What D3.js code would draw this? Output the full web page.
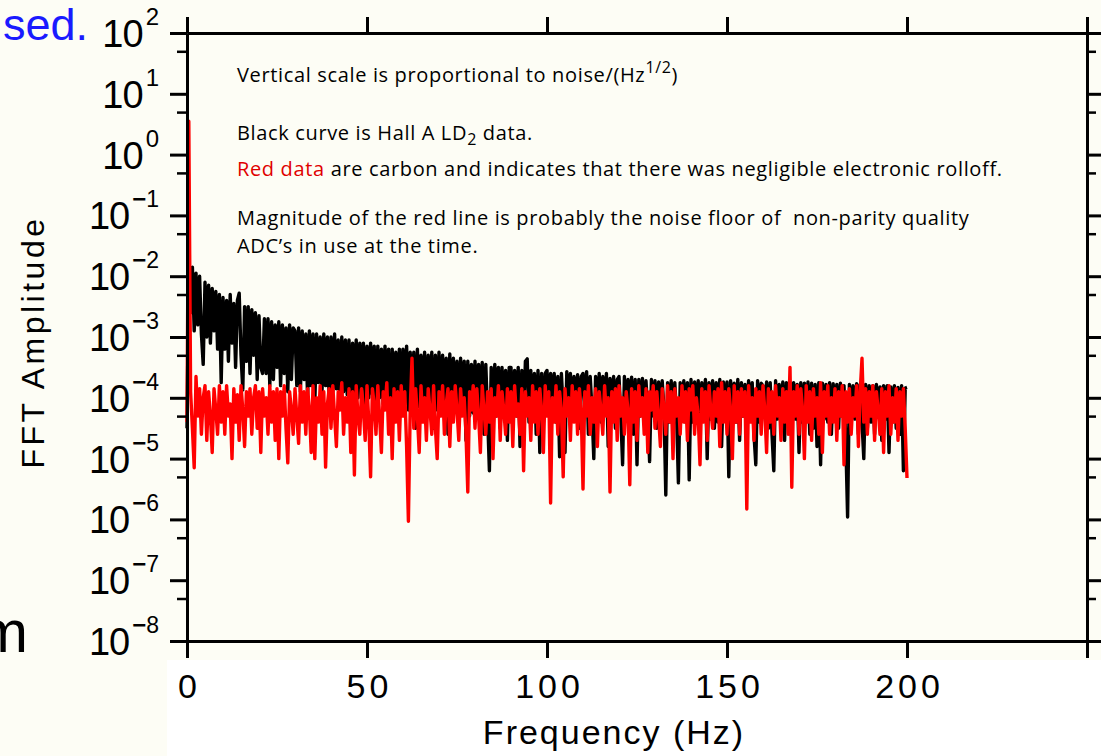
<!DOCTYPE html>
<html><head><meta charset="utf-8">
<script src="https://cdn.jsdelivr.net/npm/d3@7"></script>
<style>html,body{margin:0;padding:0;background:#fdfdf5;} svg{display:block}</style>
</head><body><svg id="chart" width="1101" height="756"></svg>
<script>
// ---- data ----
const freqStep = 0.5; // Hz between consecutive samples, first sample at 0 Hz
// log10 of FFT amplitude, Hall A LD2 (black)
const blackLog10 = [
-4.5,-1.8,-2.6,-1.85,-2.9,-1.95,-2.8,-2.0,-2.95,-3.45,-2.1,-3.0,-2.15,-3.1,-2.2,-2.9,-2.25,-3.2,-2.3,-3.75,
-2.35,-3.2,-2.4,-3.4,-2.3,-3.1,-2.45,-3.5,-2.4,-2.28,-3.3,-3.87,-2.5,-3.4,-2.5,-3.6,-2.55,-3.3,-2.6,-3.7,
-2.65,-3.5,-3.6,-2.7,-3.6,-2.7,-3.8,-2.75,-3.7,-2.8,-3.5,-2.75,-3.8,-2.8,-3.6,-2.85,-3.9,-2.8,-3.7,-2.85,
-2.9,-3.8,-2.85,-3.9,-2.9,-3.7,-2.95,-4.0,-2.9,-3.8,-2.95,-4.1,-2.95,-3.75,-3.0,-3.9,-2.95,-3.8,-3.0,-4.0,
-3.0,-3.9,-2.95,-3.85,-3.05,-4.1,-3.0,-3.9,-3.05,-3.95,-3.05,-4.2,-3.1,-3.9,-3.05,-4.0,-3.1,-3.85,-3.1,-4.1,
-3.15,-4.0,-3.1,-3.95,-3.15,-4.3,-3.15,-4.0,-3.2,-4.1,-3.15,-4.05,-3.2,-4.4,-3.2,-4.0,-3.25,-4.15,-3.2,-4.05,
-3.2,-4.1,-3.15,-4.2,-3.25,-4.05,-3.25,-4.5,-3.2,-4.15,-3.3,-4.1,-3.25,-4.3,-3.3,-4.15,-3.25,-4.5,-3.3,-4.2,
-3.25,-4.2,-3.3,-4.15,-3.35,-4.6,-3.28,-4.25,-3.35,-4.2,-3.4,-4.4,-3.35,-4.25,-3.4,-4.7,-3.4,-4.3,-3.45,-4.25,
-3.4,-4.3,-3.45,-4.2,-3.42,-4.6,-3.45,-4.3,-5.2,-3.5,-4.4,-3.45,-4.3,-3.5,-4.5,-3.5,-4.3,-3.55,-4.7,-3.5,
-3.5,-4.4,-3.55,-4.3,-3.5,-4.8,-3.55,-4.35,-3.4,-3.36,-4.4,-3.55,-4.3,-3.6,-4.6,-3.55,-4.9,-3.6,-4.4,-3.6,
-3.55,-4.2,-3.6,-4.1,-3.6,-4.4,-3.65,-4.97,-3.6,-4.2,-4.9,-3.57,-4.1,-3.6,-4.3,-3.65,-4.2,-3.62,-4.5,-3.65,
-3.6,-4.3,-3.57,-4.6,-3.65,-4.2,-5.0,-3.65,-4.3,-3.6,-4.4,-3.65,-4.25,-3.6,-4.8,-3.68,-4.3,-3.65,-4.5,-3.7,
-3.65,-4.3,-5.1,-3.65,-4.35,-3.7,-4.2,-3.66,-4.6,-3.7,-5.1,-3.7,-4.3,-3.68,-4.4,-3.72,-4.25,-5.05,-3.7,-4.3,
-3.72,-4.5,-3.74,-4.3,-3.72,-4.2,-5.6,-3.75,-4.4,-3.72,-4.6,-3.75,-4.3,-5.4,-3.75,-4.35,-3.72,-4.4,-3.75,-5.35,
-3.7,-4.4,-3.74,-4.3,-3.72,-4.6,-3.75,-4.3,-3.7,-5.0,-3.75,-4.35,-3.72,-4.5,-3.75,-4.4,-3.7,-4.8,-3.74,-4.3,
-3.74,-5.3,-3.72,-4.3,-3.76,-4.4,-3.7,-4.7,-3.75,-4.3,-3.78,-4.5,-3.72,-4.35,-3.75,-4.6,-5.1,-3.72,-4.4,-3.76,
-3.8,-4.3,-3.74,-4.5,-3.75,-4.6,-5.2,-3.72,-4.35,-3.78,-4.4,-3.74,-4.7,-3.75,-4.3,-3.76,-4.5,-3.75,-4.35,-3.78,
-4.9,-3.75,-4.4,-3.76,-4.3,-3.74,-4.6,-3.76,-4.5,-3.78,-4.8,-3.75,-5.1,-3.76,-4.35,-3.78,-4.4,-3.75,-4.6,-3.77,
-4.3,-3.78,-4.5,-3.76,-4.3,-3.8,-4.7,-5.96,-3.78,-4.4,-3.8,-4.35,-3.77,-4.6,-3.78,-4.4,-5.0,-3.78,-4.5,-3.8,
-4.4,-3.8,-4.6,-3.78,-4.3,-3.82,-4.7,-3.8,-4.35,-3.8,-4.9,-3.82,-4.4,-3.8,-4.5,-3.83,-4.6,-3.8,-5.2,-3.84,
-3.83
];
// log10 of FFT amplitude, carbon (red)
const redLog10 = [
-4.4,0.55,-3.9,-4.5,-5.15,-3.65,-4.3,-3.85,-4.6,-4.0,-3.8,-4.7,-3.9,-4.3,-4.9,-3.85,-4.2,-4.6,-3.8,-4.4,
-3.9,-4.6,-3.8,-4.3,-4.1,-5.0,-3.85,-4.4,-3.95,-4.7,-3.8,-4.2,-4.8,-3.9,-4.3,-3.85,-4.6,-4.0,-3.8,-4.5,
-3.9,-4.9,-3.85,-4.3,-4.0,-4.6,-3.8,-4.4,-3.9,-4.7,-3.85,-5.0,-3.9,-4.3,-3.8,-4.5,-5.07,-3.9,-4.2,-4.6,
-3.85,-4.3,-4.75,-3.8,-4.4,-3.9,-4.6,-3.85,-4.2,-4.9,-3.8,-5.0,-4.0,-4.4,-3.8,-4.6,-3.9,-5.14,-4.1,-3.85,
-4.5,-3.8,-4.3,-4.8,-3.9,-4.2,-3.75,-4.6,-4.0,-4.4,-3.85,-4.9,-3.9,-5.27,-3.8,-4.3,-4.6,-3.85,-4.2,-4.7,
-3.8,-4.4,-5.3,-3.85,-4.1,-4.6,-3.8,-4.3,-4.9,-3.9,-4.2,-3.75,-4.6,-4.0,-5.0,-3.85,-4.4,-3.9,-4.7,-3.8,
-4.3,-3.9,-4.8,-6.03,-4.2,-3.35,-4.5,-3.85,-4.3,-4.9,-3.8,-4.4,-4.0,-4.7,-3.85,-4.2,-4.6,-3.8,-4.5,-5.0,
-3.9,-4.3,-3.8,-4.6,-4.1,-3.85,-4.8,-3.9,-4.4,-3.8,-4.2,-4.7,-3.85,-4.3,-4.0,-4.6,-5.55,-3.9,-4.2,-3.8,
-4.5,-3.85,-4.3,-4.9,-3.8,-4.2,-4.6,-3.9,-4.4,-3.85,-5.0,-4.0,-4.3,-3.8,-4.7,-3.9,-4.2,-4.6,-3.85,-4.4,
-3.9,-4.8,-3.8,-4.3,-4.1,-4.6,-3.85,-5.2,-3.9,-4.3,-4.0,-4.7,-3.8,-4.4,-3.9,-4.6,-3.85,-4.2,-4.9,-3.8,
-4.3,-3.9,-5.73,-4.0,-4.4,-3.8,-4.6,-3.9,-4.2,-5.3,-3.85,-4.3,-4.0,-4.7,-3.8,-4.4,-3.9,-4.6,-3.85,-4.2,
-5.5,-3.9,-4.3,-3.8,-4.6,-4.0,-4.4,-3.85,-4.8,-3.9,-4.2,-4.6,-3.8,-4.3,-4.0,-5.55,-3.9,-4.4,-3.85,-4.7,
-3.8,-4.3,-4.0,-4.6,-3.9,-4.2,-5.43,-3.85,-4.4,-3.9,-4.7,-3.8,-4.3,-4.0,-4.6,-3.85,-4.9,-3.9,-4.2,-3.8,
-4.5,-3.9,-4.3,-4.8,-3.85,-4.2,-4.6,-3.8,-4.4,-3.9,-5.0,-3.85,-4.3,-4.0,-4.6,-3.8,-4.4,-3.9,-4.7,-3.85,
-4.2,-3.8,-4.6,-4.0,-4.3,-5.1,-3.85,-4.4,-3.9,-4.7,-3.8,-4.2,-4.5,-3.9,-4.3,-3.85,-4.8,-3.75,-4.4,-3.9,
-4.6,-3.85,-4.2,-5.0,-3.8,-4.4,-3.9,-4.6,-3.85,-4.3,-3.9,-5.83,-3.8,-4.4,-4.0,-4.7,-3.85,-4.3,-3.9,-4.6,
-3.8,-4.2,-4.9,-3.85,-4.4,-3.9,-4.6,-3.8,-4.3,-4.0,-4.7,-3.85,-4.4,-3.9,-4.6,-3.5,-5.47,-3.9,-4.3,-3.8,
-4.6,-3.85,-4.2,-5.0,-3.8,-4.4,-3.9,-4.7,-3.85,-4.3,-4.0,-4.6,-3.75,-4.9,-3.9,-4.3,-3.8,-4.6,-4.0,-4.4,
-3.85,-4.7,-3.9,-4.3,-3.8,-5.1,-3.9,-4.4,-3.85,-4.6,-4.0,-4.3,-3.8,-4.8,-3.9,-3.35,-4.4,-3.85,-4.6,-3.9,
-4.3,-3.8,-4.7,-3.9,-4.2,-4.6,-3.85,-4.9,-3.9,-4.3,-3.8,-4.6,-4.0,-4.4,-3.85,-4.7,-3.9,-4.3,-3.85,-4.5,
-5.32
];
const xTickValues = [0, 50, 100, 150, 200, 250];
const xTickLabels = ["0", "50", "100", "150", "200", ""];
const yExponents = [2, 1, 0, -1, -2, -3, -4, -5, -6, -7, -8];
const yMinorValues = [5e1, 5e0, 5e-1, 5e-2, 5e-3, 5e-4, 5e-5, 5e-6, 5e-7, 5e-8];
const xTitle = "Frequency (Hz)";
const yTitle = "FFT Amplitude";

// ---- drawing ----
const svg = d3.select("#chart");
const L = 187, R = 1087, T = 33, B = 641;
const x = d3.scaleLinear().domain([0, 250]).range([L, R]);
const y = d3.scaleLog().domain([1e-8, 1e2]).range([B, T]);

svg.append("rect").attr("x", 0).attr("y", 0).attr("width", 1101).attr("height", 756).attr("fill", "#fdfdf5");
svg.append("rect").attr("x", 167).attr("y", 660).attr("width", 934).attr("height", 96).attr("fill", "#ffffff");

// slide fragments (partly cropped at the left edge, as in the picture)
svg.append("text").attr("x", 3).attr("y", 40).attr("font-family", "Liberation Sans, Arial, sans-serif")
  .attr("font-size", 45).attr("fill", "#1a1aff").text("sed.");
svg.append("text").attr("x", 28).attr("y", 652).attr("text-anchor", "end").attr("font-family", "Liberation Sans, Arial, sans-serif")
  .attr("font-size", 60).attr("fill", "#000").text("m");

// data lines
const toPts = arr => arr.map((v, i) => ({f: i * freqStep, a: Math.pow(10, v)}));
const line = d3.line().x(d => x(d.f)).y(d => y(d.a));
svg.append("path").datum(toPts(blackLog10)).attr("d", line)
  .attr("fill", "none").attr("stroke", "#000").attr("stroke-width", 3.4).attr("stroke-linejoin", "round");
svg.append("path").datum(toPts(redLog10)).attr("d", line)
  .attr("fill", "none").attr("stroke", "#ff0000").attr("stroke-width", 3.4).attr("stroke-linejoin", "round");

// axes
function styleAxis(g, w) {
  g.selectAll("path.domain").attr("stroke", "#000").attr("stroke-width", 3);
  g.selectAll(".tick line").attr("stroke", "#000").attr("stroke-width", w);
  g.selectAll(".tick text").remove();
}
svg.append("g").attr("transform", `translate(${L},0)`)
  .call(d3.axisLeft(y).tickValues(yExponents.map(e => Math.pow(10, e))).tickSize(17).tickSizeOuter(0))
  .call(g => styleAxis(g, 3));
svg.append("g").attr("transform", `translate(${L},0)`)
  .call(d3.axisLeft(y).tickValues(yMinorValues).tickSize(10).tickSizeOuter(0))
  .call(g => styleAxis(g, 2.5));
svg.append("g").attr("transform", `translate(${R},0)`)
  .call(d3.axisRight(y).tickValues(yExponents.map(e => Math.pow(10, e))).tickSize(14).tickSizeOuter(0))
  .call(g => styleAxis(g, 3));
svg.append("g").attr("transform", `translate(${R},0)`)
  .call(d3.axisRight(y).tickValues(yMinorValues).tickSize(9).tickSizeOuter(0))
  .call(g => styleAxis(g, 2.5));
svg.append("g").attr("transform", `translate(0,${T})`)
  .call(d3.axisTop(x).tickValues(xTickValues).tickSize(16).tickSizeOuter(0))
  .call(g => styleAxis(g, 3));
const xAxisG = svg.append("g").attr("transform", `translate(0,${B})`)
  .call(d3.axisBottom(x).tickValues(xTickValues).tickSize(17).tickSizeOuter(0)
    .tickFormat((d, i) => xTickLabels[i]));
xAxisG.selectAll("path.domain").attr("stroke", "#000").attr("stroke-width", 3);
xAxisG.selectAll(".tick line").attr("stroke", "#000").attr("stroke-width", 3);
xAxisG.selectAll(".tick text").attr("y", 57).attr("dy", 0).attr("dx", 2)
  .attr("font-family", "Liberation Sans, Arial, sans-serif").attr("font-size", 34)
  .attr("letter-spacing", 4).attr("fill", "#000");

// y tick labels 10^n
const yl = svg.append("g").attr("font-family", "Liberation Sans Narrow, Liberation Sans, Arial, sans-serif").attr("fill", "#000");
yExponents.forEach(e => {
  const t = yl.append("text").attr("x", 159).attr("y", y(Math.pow(10, e)) + 14).attr("text-anchor", "end");
  t.append("tspan").attr("font-size", 38).attr("letter-spacing", -1).text("10");
  if (e < 0) {
    t.append("tspan").attr("font-size", 24).attr("dy", -22).attr("dx", 3).attr("font-weight", "bold").text("\u2212");
    t.append("tspan").attr("font-size", 23).text(String(-e));
  } else {
    t.append("tspan").attr("font-size", 24).attr("dy", -22).attr("dx", 3).text(String(e));
  }
});

// axis titles
svg.append("text").attr("x", 614).attr("y", 744).attr("text-anchor", "middle")
  .attr("font-family", "Liberation Sans, Arial, sans-serif").attr("font-size", 34).attr("letter-spacing", 2)
  .attr("fill", "#000").text(xTitle);
svg.append("text").attr("transform", "translate(44,342) rotate(-90)").attr("text-anchor", "middle")
  .attr("font-family", "Liberation Sans, Arial, sans-serif").attr("font-size", 32).attr("letter-spacing", 3.5)
  .attr("fill", "#000").text(yTitle);

// annotations
const ann = svg.append("g").attr("font-family", "Open Sans, Noto Sans, sans-serif").attr("font-size", 20).attr("fill", "#000").attr("letter-spacing", 0.65);
const t1 = ann.append("text").attr("x", 237).attr("y", 82);
t1.append("tspan").text("Vertical scale is proportional to noise/(Hz");
t1.append("tspan").attr("font-size", 16).attr("dy", -9).text("1/2");
t1.append("tspan").attr("dy", 9).text(")");
const t2 = ann.append("text").attr("x", 237).attr("y", 140);
t2.append("tspan").text("Black curve is Hall A LD");
t2.append("tspan").attr("font-size", 16).attr("dy", 5).text("2");
t2.append("tspan").attr("dy", -5).text(" data.");
const t3 = ann.append("text").attr("x", 237).attr("y", 176);
t3.append("tspan").attr("fill", "#e00000").text("Red data");
t3.append("tspan").text(" are carbon and indicates that there was negligible electronic rolloff.");
ann.append("text").attr("x", 237).attr("y", 225).style("white-space", "pre")
  .text("Magnitude of the red line is probably the noise floor of  non-parity quality");
ann.append("text").attr("x", 237).attr("y", 253).text("ADC\u2019s in use at the time.");
</script></body></html>
